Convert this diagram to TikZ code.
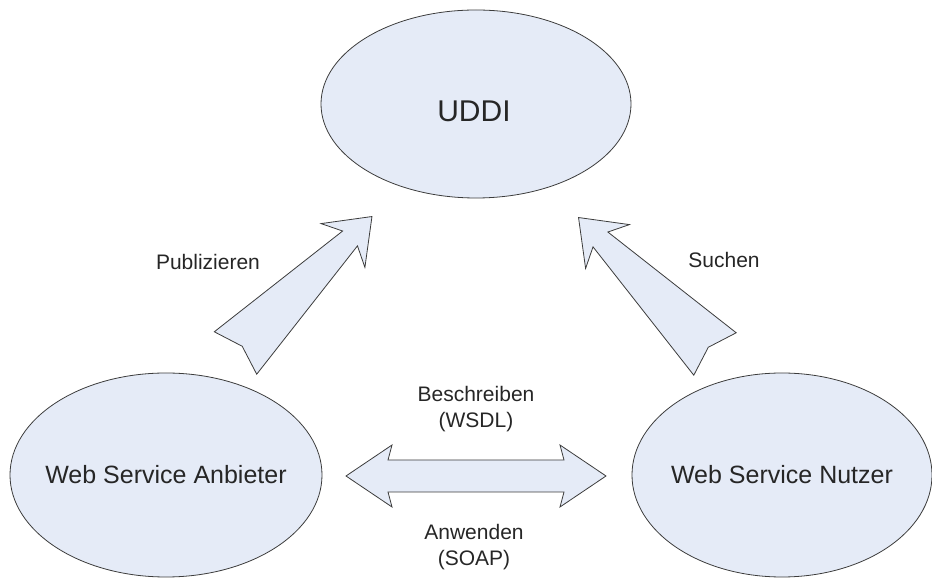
\documentclass[tikz,border=0pt]{standalone}
\usepackage{fontspec}
\setmainfont{Liberation Sans}
\usepackage{xcolor}
\usetikzlibrary{shapes.geometric, positioning, calc}
\definecolor{shapefill}{RGB}{229, 235, 247}
\definecolor{shapeline}{RGB}{60, 60, 60}

\begin{document}
\begin{tikzpicture}[
    x=1pt, y=1pt,
    party/.style={ellipse, draw=shapeline, fill=shapefill, line width=0.8pt, inner sep=0pt},
    partytext/.style={font=\fontsize{25}{29}\selectfont, text=black!85},
    lbl/.style={align=center, font=\fontsize{21}{26}\selectfont, text=black!85},
    blockarrow/.style={draw=shapeline, fill=shapefill, line width=0.8pt, line join=miter},
    taper/.pic={
        \draw[blockarrow] (0,30) -- (162,10.5) -- (152,31) -- (193,0) -- (152,-31)
            -- (162,-10.5) -- (0,-30) -- (9.5,0) -- cycle;
    },
    twoway/.pic={
        \draw[blockarrow] (-130,0) -- (-84,31) -- (-88,16) -- (88,16) -- (84,31)
            -- (130,0) -- (84,-31) -- (88,-16) -- (-88,-16) -- (-84,-31) -- cycle;
    }
]
    \useasboundingbox (0,0) rectangle (932,578);

    % the three parties
    \node[party, minimum width=310pt, minimum height=188pt] (uddi) at (476,474) {};
    \node[partytext, font=\fontsize{30}{34}\selectfont] (uddilbl) at ($(uddi)+(-2,-7)$) {UDDI};
    \node[party, minimum width=312pt, minimum height=204pt] (anbieter) at (166,103) {};
    \node[partytext] (anbieterlbl) at (anbieter) {Web Service Anbieter};
    \node[party, minimum width=300pt, minimum height=204pt] (nutzer) at (782,103) {};
    \node[partytext] (nutzerlbl) at (nutzer) {Web Service Nutzer};

    % block arrows
    \coordinate (pubtail) at (235.5,225);
    \coordinate (suchtail) at (715,224);
    \coordinate (between) at ($(anbieter)!0.5!(nutzer)+(2,-1)$);
    \pic[rotate=45] at (pubtail) {taper};
    \pic[rotate=135] at (suchtail) {taper};
    \pic at (between) {twoway};

    % labels
    \node[lbl] (publbl) at (208,316) {Publizieren};
    \node[lbl] (suchlbl) at (724,318) {Suchen};
    \node[lbl] (wsdllbl) at ($(between)+(0,67)$) {Beschreiben\\(WSDL)};
    \node[lbl] (soaplbl) at ($(between)+(-2,-71)$) {Anwenden\\(SOAP)};
\end{tikzpicture}
\end{document}
